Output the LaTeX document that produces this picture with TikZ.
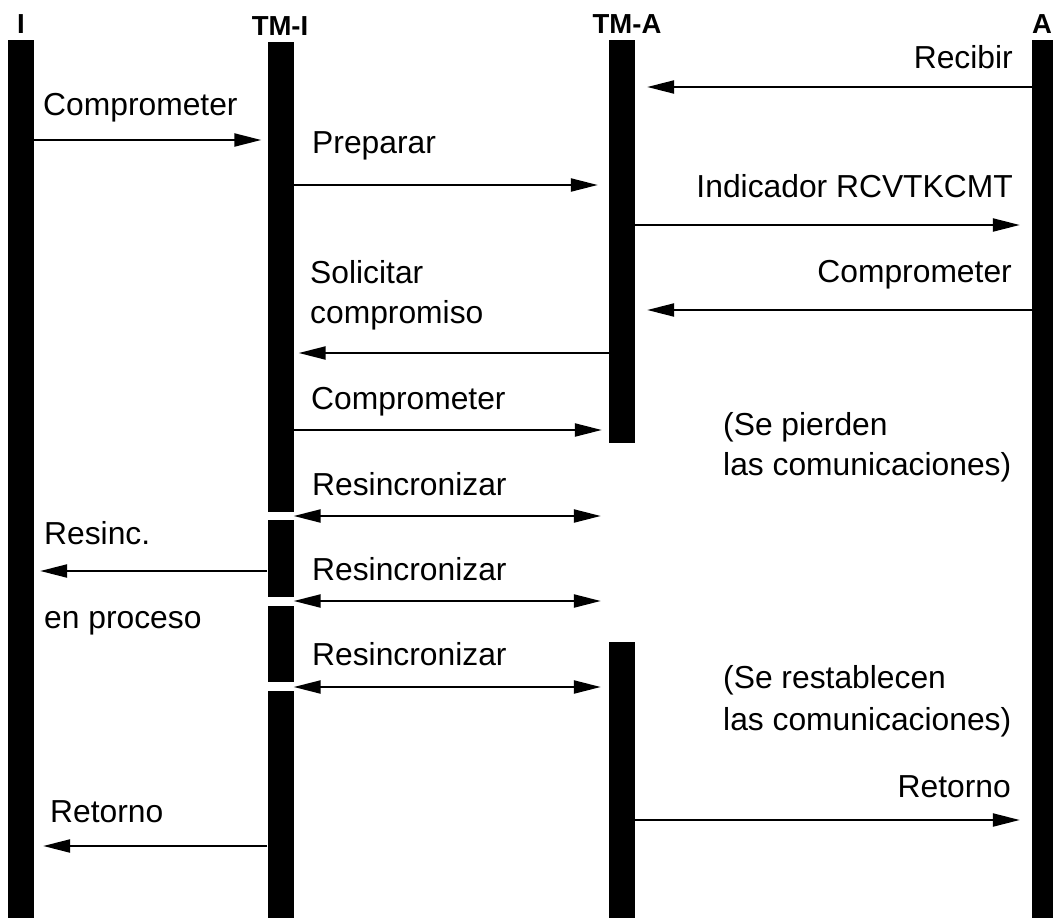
\documentclass[tikz,border=0pt]{standalone}
\usepackage{fontspec}
\setmainfont{Liberation Sans}
\usetikzlibrary{arrows.meta}

\begin{document}
\begin{tikzpicture}[x=1pt,y=-1pt,
  bar/.style={fill=black,inner sep=0pt,minimum width=26pt,anchor=north},
  msg/.style={line width=2.2pt,-{Triangle[length=27pt,width=13pt]}},
  both/.style={line width=2.2pt,{Triangle[length=27pt,width=13pt]}-{Triangle[length=27pt,width=13pt]}},
  lbl/.style={inner sep=0pt,font=\fontsize{31.8}{36}\selectfont},
  head/.style={inner sep=0pt,anchor=base,font=\fontsize{27.5}{30}\selectfont\bfseries}]
\useasboundingbox (0,0) rectangle (1053,918);

\node[head] (hI) at (21,33) {I};
\node[head] (hTMI) at (280,35) {TM-I};
\node[head] (hTMA) at (627,33) {TM-A};
\node[head] (hA) at (1042,33) {A};

\node[bar,minimum height=878pt] (I) at (21,40) {};
\node[bar,minimum height=470pt] (TMI) at (280.5,42) {};
\node[bar,minimum height=77pt] (TMIb) at (280.5,520) {};
\node[bar,minimum height=76pt] (TMIc) at (280.5,606) {};
\node[bar,minimum height=227pt] (TMId) at (280.5,691) {};
\node[bar,minimum height=403pt] (TMA) at (622,40) {};
\node[bar,minimum height=276pt] (TMAb) at (622,642) {};
\node[bar,minimum height=878pt] (A) at (1045,40) {};

\draw[msg,shorten >=12pt] (A.west |- 0,87) -- (TMA.east |- 0,87);
\node[lbl,anchor=base east] (tRecibir) at (1013,68) {Recibir};

\draw[msg,shorten >=6pt] (I.east |- 0,140) -- (TMI.west |- 0,140);
\node[lbl,anchor=base west] (tComprometerI) at (43,115) {Comprometer};

\draw[msg,shorten >=11pt] (TMI.east |- 0,185) -- (TMA.west |- 0,185);
\node[lbl,anchor=base west] (tPreparar) at (312,153) {Preparar};

\draw[msg,shorten >=12pt] (TMA.east |- 0,225) -- (A.west |- 0,225);
\node[lbl,anchor=base east] (tIndicador) at (1013,197) {Indicador RCVTKCMT};

\draw[msg,shorten >=12pt] (A.west |- 0,310) -- (TMA.east |- 0,310);
\node[lbl,anchor=base east] (tComprometerA) at (1012,282) {Comprometer};

\draw[msg,shorten >=5pt] (TMA.west |- 0,353) -- (TMI.east |- 0,353);
\node[lbl,anchor=base west] (tSolicitar) at (310,283) {Solicitar};
\node[lbl,anchor=base west] (tCompromiso) at (310,323) {compromiso};

\draw[msg,shorten >=7pt] (TMI.east |- 0,430) -- (TMA.west |- 0,430);
\node[lbl,anchor=base west] (tComprometerTM) at (311,409) {Comprometer};

\node[lbl,anchor=base west] (tPierden) at (723,435) {(Se pierden};
\node[lbl,anchor=base west] (tPierdenb) at (723,475) {las comunicaciones)};

\draw[both,shorten >=8pt] (TMI.east |- 0,516) -- (TMA.west |- 0,516);
\node[lbl,anchor=base west] (tResinc1) at (312,495) {Resincronizar};

\draw[msg,shorten >=6pt] (TMIb.west |- 0,571) -- (I.east |- 0,571);
\node[lbl,anchor=base west] (tResinc) at (44,544) {Resinc.};
\node[lbl,anchor=base west] (tProceso) at (44,628) {en proceso};

\draw[both,shorten >=8pt] (TMIb.east |- 0,601) -- (TMAb.west |- 0,601);
\node[lbl,anchor=base west] (tResinc2) at (312,580) {Resincronizar};

\draw[both,shorten >=8pt] (TMIc.east |- 0,687) -- (TMAb.west |- 0,687);
\node[lbl,anchor=base west] (tResinc3) at (312,665) {Resincronizar};

\node[lbl,anchor=base west] (tRestablecen) at (723,688) {(Se restablecen};
\node[lbl,anchor=base west] (tRestablecenb) at (723,730) {las comunicaciones)};

\draw[msg,shorten >=12pt] (TMAb.east |- 0,820) -- (A.west |- 0,820);
\node[lbl,anchor=base east] (tRetornoA) at (1011,797) {Retorno};

\draw[msg,shorten >=9pt] (TMId.west |- 0,846) -- (I.east |- 0,846);
\node[lbl,anchor=base west] (tRetornoI) at (50,822) {Retorno};

\end{tikzpicture}
\end{document}
